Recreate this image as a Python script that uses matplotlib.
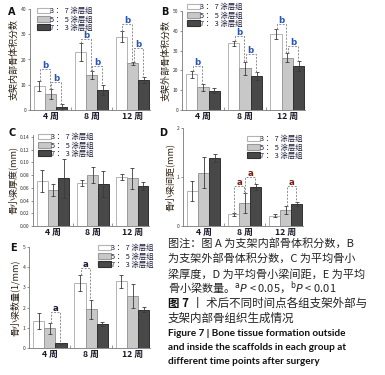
import numpy as np
import matplotlib
matplotlib.use('Agg')
from matplotlib import pyplot as plt
from matplotlib.patches import Patch

plt.rcParams['font.family'] = ['Noto Sans CJK SC', 'DejaVu Sans']

groups = ['4 周', '8 周', '12 周']
series = ['3 ： 7 涂层组', '5 ： 5 涂层组', '7 ： 3 涂层组']

# A 支架内部骨体积分数
a_mean = [[9.5, 22.9, 29.1], [6.2, 13.8, 18.5], [1.2, 8.0, 11.8]]
a_err = [[1.8, 3.6, 2.3], [2.0, 1.5, 0.7], [1.2, 2.0, 1.3]]
a_sig = [(0, 0, 1, 16.2, 'b'), (0, 1, 2, 10.9, 'b'), (1, 0, 1, 28.1, 'b'),
         (1, 1, 2, 17.5, 'b'), (2, 0, 1, 34.0, 'b'), (2, 1, 2, 24.4, 'b')]

# B 支架外部骨体积分数
b_mean = [[18.0, 33.6, 38.3], [11.4, 21.0, 26.5], [9.7, 17.1, 22.1]]
b_err = [[1.7, 1.4, 2.5], [1.7, 3.3, 2.5], [1.3, 2.2, 2.5]]
b_sig = [(0, 0, 1, 22.1, 'b'), (1, 0, 1, 37.2, 'b'), (1, 1, 2, 28.2, 'b'),
         (2, 0, 1, 43.3, 'b'), (2, 1, 2, 32.2, 'b')]

# C 骨小梁厚度
c_mean = [[0.0705, 0.0669, 0.0773], [0.0564, 0.080, 0.0747], [0.0747, 0.0658, 0.0627]]
c_err = [[0.017, 0.0047, 0.0052], [0.0097, 0.012, 0.0165], [0.030, 0.021, 0.0068]]

# D 骨小梁间距
d_mean = [[0.717, 0.239, 0.21], [1.09, 0.464, 0.33], [1.38, 0.79, 0.45]]
d_err = [[0.205, 0.035, 0.035], [0.32, 0.2, 0.08], [0.08, 0.06, 0.04]]
d_sig = [(1, 0, 1, 0.82, 'a'), (1, 1, 2, 1.0, 'a'), (2, 1, 2, 0.82, 'a')]

# E 骨小梁数量
e_mean = [[1.34, 3.23, 3.3], [0.98, 1.92, 2.56], [0.23, 1.18, 1.9]]
e_err = [[0.4, 0.4, 0.33], [0.27, 0.48, 0.59], [0.03, 0.1, 0.12]]
e_sig = [(0, 1, 2, 1.77, 'a'), (1, 0, 1, 3.97, 'a')]

fills = ['white', '#c8c8c8', '#484848']
edges = ['#b4b4b4', '#9a9a9a', '#303030']
W = 0.27

fig = plt.figure(figsize=(3.85, 3.75), dpi=100)
P = 1.0 / 385
Q = 1.0 / 375


def panel(rect, mean, err, ylim, yticks, ylabel, sig=None, sigcolor='#2a55b0', fmt='%g'):
    ax = fig.add_axes(rect)
    x = np.arange(len(groups))
    for i in range(3):
        ax.bar(x + (i - 1) * W, mean[i], W, yerr=err[i], color=fills[i],
               edgecolor=edges[i], linewidth=0.7,
               error_kw=dict(ecolor='#3a3a3a', elinewidth=0.6, capsize=1.3, capthick=0.6))
    if sig:
        for g, i, j, h, s in sig:
            xi = g + (i - 1) * W + 0.02
            xj = g + (j - 1) * W - 0.02
            yi = mean[i][g] + err[i][g]
            yj = mean[j][g] + err[j][g]
            ax.plot([xi, xi, xj, xj], [yi, h, h, yj], color='#8c8c8c',
                    lw=0.7, ls=(0, (2, 1.5)))
            ax.annotate(s, ((xi + xj) / 2, h), xytext=(0, 0.8), textcoords='offset points',
                        ha='center', va='baseline', fontsize=6.2, fontweight='bold',
                        color=sigcolor, family='DejaVu Sans')
    ax.set_xlim(-0.5, 2.42)
    ax.set_ylim(*ylim)
    ax.set_yticks(yticks)
    ax.set_yticklabels([fmt % t for t in yticks])
    ax.set_xticks(x)
    ax.set_xticklabels(groups, fontsize=6.3, fontweight='bold', color='#1a1a2a')
    ax.set_xticks([0.5, 1.5], minor=True)
    ax.tick_params(axis='x', which='major', length=0, pad=1.5)
    ax.tick_params(axis='x', which='minor', length=2, direction='in', color='#888')
    ax.tick_params(axis='y', length=1.5, width=0.5, labelsize=3.6, pad=1, color='#666',
                   labelcolor='#333')
    for sp in ['top', 'right']:
        ax.spines[sp].set_visible(False)
    for sp in ['left', 'bottom']:
        ax.spines[sp].set_linewidth(0.6)
        ax.spines[sp].set_color('#777')
    ax.set_ylabel(ylabel, fontsize=6.5, color='#2a2010', labelpad=2)
    return ax


def legend(ax, px, py):
    hs = [Patch(facecolor=fills[i], edgecolor=edges[i], linewidth=0.8) for i in range(3)]
    ax.legend(hs, series, loc='upper left', bbox_to_anchor=(px * P, 1 - py * Q),
              bbox_transform=fig.transFigure, frameon=False, fontsize=5.3,
              handlelength=1.7, handleheight=0.85, labelspacing=0.05, handletextpad=0.1,
              borderpad=0, borderaxespad=0, labelcolor='#1a1a3a')


axA = panel([30 * P, 1 - 110 * Q, 120 * P, 101 * Q], a_mean, a_err, (0, 40),
            [0, 10, 20, 30, 40], '支架内部骨体积分数', a_sig)
legend(axA, 37, 7)
axB = panel([182 * P, 1 - 110 * Q, 123 * P, 99 * Q], b_mean, b_err, (0, 50),
            [0, 10, 20, 30, 40, 50], '支架外部骨体积分数', b_sig)
legend(axB, 187, 3)
axC = panel([33 * P, 1 - 226 * Q, 116 * P, 91 * Q], c_mean, c_err, (0, 0.143),
            np.arange(0, 0.141, 0.02), '骨小梁厚度(mm)', fmt='%.2f')
legend(axC, 38, 133)
axD = panel([183 * P, 1 - 226 * Q, 120 * P, 98 * Q], d_mean, d_err, (0, 2),
            [0, 1, 2], '骨小梁间距(mm)', d_sig, sigcolor='#7a2010')
legend(axD, 247, 135)
axE = panel([29 * P, 1 - 348 * Q, 121 * P, 101 * Q], e_mean, e_err, (0, 5),
            [0, 1, 2, 3, 4, 5], '骨小梁数量(1/mm)', e_sig, sigcolor='#1a1a40')
legend(axE, 98, 244)

for s, px, py in [('A', 12, 12), ('B', 165, 12), ('C', 12, 133), ('D', 163, 133), ('E', 13, 248)]:
    fig.text(px * P, 1 - py * Q, s, fontsize=7, fontweight='bold', ha='center', va='center',
             family='DejaVu Sans', color='#111')

cap = [
    ('图注：图 A 为支架内部骨体积分数，B', 243),
    ('为支架外部骨体积分数，C 为平均骨小', 258),
    ('梁厚度，D 为平均骨小梁间距，E 为平均', 274),
    (r'骨小梁数量。$^{\mathrm{a}}\mathit{P}$ < 0.05，$^{\mathrm{b}}\mathit{P}$ < 0.01', 288),
]
for s, py in cap:
    fig.text(168 * P, 1 - py * Q, s, fontsize=8, va='center', color='#222')

fig.text(168 * P, 1 - 303 * Q, '图 7', fontsize=8.3, fontweight='bold', va='center',
         color='#111')
fig.text(192 * P, 1 - 303 * Q, '丨 术后不同时间点各组支架外部与', fontsize=8.3, va='center',
         color='#222')
fig.text(168 * P, 1 - 318 * Q, '支架内部骨组织生成情况', fontsize=8.3, va='center', color='#222')

eng = [('Figure 7 | Bone tissue formation outside', 333),
       ('and inside the scaffolds in each group at', 347),
       ('different time points after surgery', 361)]
for s, py in eng:
    fig.text(168 * P, 1 - py * Q, s, fontsize=7.2, fontweight='bold', va='center',
             family='Lato', color='#111')

fig.savefig('out.png', dpi=100)
